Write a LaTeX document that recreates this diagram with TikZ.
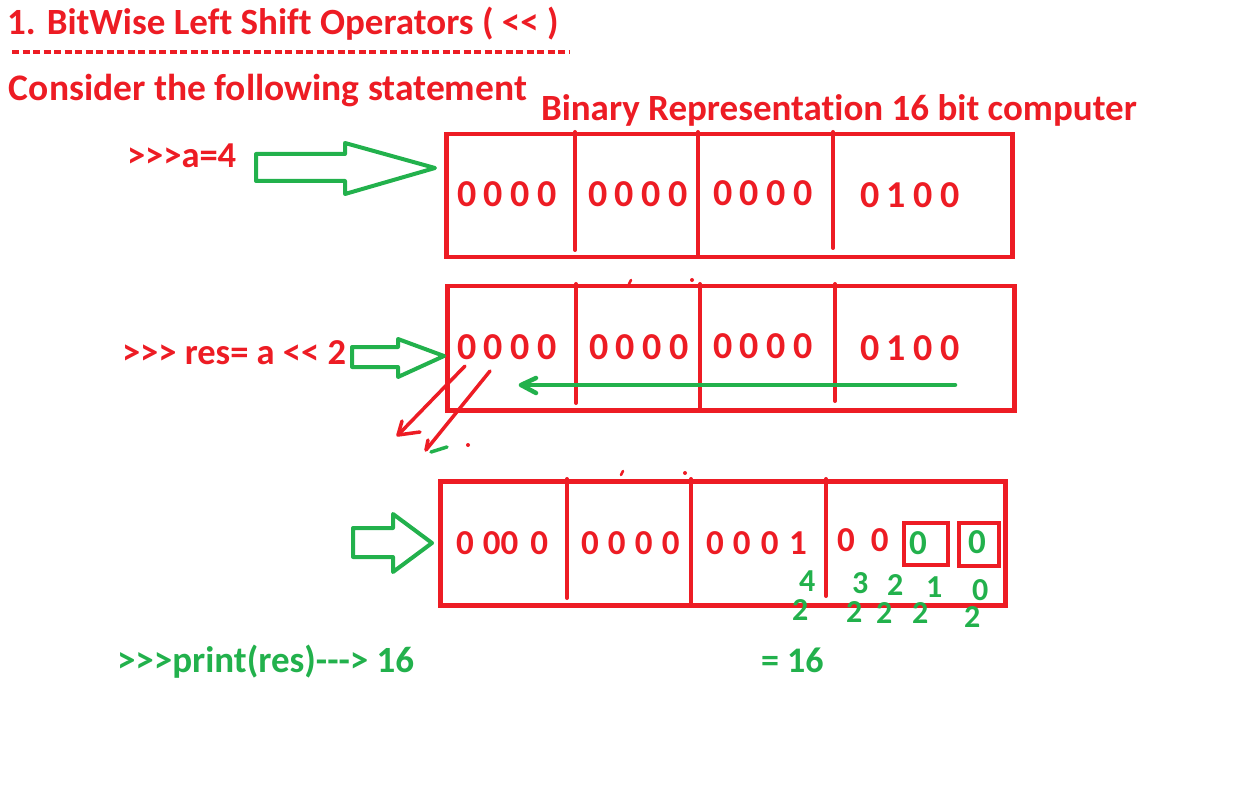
\documentclass[tikz,border=0pt]{standalone}
\usepackage{fontspec}
\setmainfont{Carlito}[Ligatures=NoCommon]
\definecolor{pred}{RGB}{237,28,36}
\definecolor{pgreen}{RGB}{34,177,76}
\newcommand\fs[1]{\fontsize{#1}{#1}\selectfont}
\newcommand\kk{\kern0pt}
\newcommand\gp{\hspace{7.6pt}}
\newcommand\gq{\hspace{9.2pt}}
\begin{document}
\begin{tikzpicture}[x=1pt,y=-1pt,
  lbl/.style={inner sep=0pt,outer sep=0pt,anchor=base west,font=\bfseries},
  redt/.style={lbl,text=pred},
  greent/.style={lbl,text=pgreen},
  bigdig/.style={redt,font=\bfseries\fs{38}},
  dig/.style={redt,font=\bfseries\fs{35}},
  powdig/.style={greent,font=\bfseries\fs{32}},
  cellbox/.style={draw=pred,line width=4.5pt,inner sep=0pt,anchor=north west},
  divline/.style={draw=pred,line width=4pt,line cap=round},
  fatarrow/.style={draw=pgreen,line width=4pt,line join=round},
  redstroke/.style={draw=pred,line width=3.5pt,line cap=round},
  greenstroke/.style={draw=pgreen,line width=4.5pt,line cap=round},
  smallbox/.style={draw=pred,line width=4pt,inner sep=0pt,anchor=north west}
]
\useasboundingbox (0,0) rectangle (1250,810);

% headings
\node[redt,font=\bfseries\fs{37}] (title) at (7,35) {1. BitWise Left Shift Operators ( <\kk< )};
\coordinate (dashL) at (12,52);
\coordinate (dashR) at (570,52);
\draw[draw=pred,line width=3.5pt,dash pattern=on 7pt off 3.5pt] (dashL) -- (dashR);
\node[redt,font=\bfseries\fs{37.5}] (consider) at (9,101) {Consider the following statement};
\node[redt,font=\bfseries\fs{37}] (binrep) at (541,121) {Binary Representation 16 bit computer};

% statements
\node[redt,font=\bfseries\fs{36.5}] (stA) at (127,168) {>\kk>\kk>a=4};
\node[redt,font=\bfseries\fs{36.5}] (stRes) at (122,364) {>\kk>\kk> res= a <\kk< 2};
\node[greent,font=\bfseries\fs{37}] (stPrint) at (117,672) {>\kk>\kk>print(res)-\kk-\kk-> 16};

% box 1
\node[cellbox,minimum width=566pt,minimum height=123pt] (b1) at (444,132) {};
\draw[divline] (575,132) -- (575,250);
\draw[divline] (698,132) -- (698,255);
\draw[divline] (833,132) -- (833,248);
\node[bigdig] (g11) at (457,207) {0\gp0\gp0\gp0};
\node[bigdig] (g12) at (588,207) {0\gp0\gp0\gp0};
\node[bigdig] (g13) at (713,206) {0\gp0\gp0\gp0};
\node[bigdig] (g14) at (860,208) {0\gp1\gp0\gp0};

% box 2
\node[cellbox,minimum width=567pt,minimum height=124pt] (b2) at (445,284) {};
\draw[divline] (576,284) -- (576,403);
\draw[divline] (700,284) -- (700,408);
\draw[divline] (835,284) -- (835,401);
\node[bigdig] (g21) at (457,359) {0\gp0\gp0\gp0};
\node[bigdig] (g22) at (589,359) {0\gp0\gp0\gp0};
\node[bigdig] (g23) at (713,358) {0\gp0\gp0\gp0};
\node[bigdig] (g24) at (860,360) {0\gp1\gp0\gp0};
\coordinate (shiftFrom) at (955,385);
\coordinate (shiftTo) at (521,385);
\draw[greenstroke] (shiftFrom) -- (shiftTo);
\draw[greenstroke,line join=round] (536,378) -- (shiftTo) -- (536,393);
% tiny marks above box 2
\draw[draw=pred,line width=2.5pt,line cap=round] (629,284) -- (631,280);
\fill[pred] (692,280) circle (2pt);

% box 3
\node[cellbox,minimum width=565pt,minimum height=124pt] (b3) at (438,479) {};
\draw[divline] (567,479) -- (567,598);
\draw[divline] (691,479) -- (691,603);
\draw[divline] (826,479) -- (826,596);
\node[dig] (g31) at (456,554) {0\gq00\hspace{12pt}0};
\node[dig] (g32) at (581,554) {0\gq0\gq0\gq0};
\node[dig] (g33) at (706,554) {0\gq0\hspace{10.3pt}0\hspace{10.3pt}1};
\node[dig] (g34) at (837,551) {0\hspace{16pt}0};
\node[smallbox,minimum width=44pt,minimum height=42pt] (ob1) at (902,521) {};
\node[smallbox,minimum width=40pt,minimum height=43pt] (ob2) at (957,521) {};
\node[greent,font=\bfseries\fs{35}] (z1) at (909,554) {0};
\node[greent,font=\bfseries\fs{35}] (z0) at (968,553) {0};
\draw[draw=pred,line width=2.5pt,line cap=round] (621,475) -- (623,471);
\fill[pred] (685,473) circle (2pt);

% powers of two
\node[powdig] (e4) at (799,591) {4};
\node[powdig] (b4) at (792,620) {2};
\node[powdig] (e3) at (852,593) {3};
\node[powdig] (b3n) at (846,622) {2};
\node[powdig] (e2) at (887,595) {2};
\node[powdig] (b2n) at (876,623) {2};
\node[powdig] (e1) at (926,597) {1};
\node[powdig] (b1n) at (912,623) {2};
\node[powdig] (e0) at (972,600) {0};
\node[powdig] (b0n) at (964,627) {2};
\node[greent,font=\bfseries\fs{36}] (eq) at (761,672) {= 16};

% fat hollow arrows
\draw[fatarrow] (256,154) -- (345,154) -- (345,143) -- (435,168) -- (345,194) -- (345,181) -- (256,181) -- cycle;
\draw[fatarrow] (352,347) -- (398,347) -- (398,339) -- (444,356) -- (398,377) -- (398,367) -- (352,367) -- cycle;
\draw[fatarrow] (353,528) -- (393,528) -- (393,514) -- (432,543) -- (393,572) -- (393,557) -- (353,557) -- cycle;

% red diagonal shift arrows
\coordinate (d1s) at (465,366);
\coordinate (d1e) at (398,435);
\coordinate (d2s) at (490,371);
\coordinate (d2e) at (426,450);
\draw[redstroke] (d1s) -- (d1e);
\draw[redstroke,line join=round] (402,421) -- (d1e) -- (420,432);
\draw[redstroke] (d2s) -- (d2e);
\draw[redstroke] (d2e) -- (428,440);
\draw[draw=pgreen,line width=3.5pt,line cap=round] (431,452) -- (447,447);
\fill[pred] (468,445) circle (2pt);
\end{tikzpicture}
\end{document}
